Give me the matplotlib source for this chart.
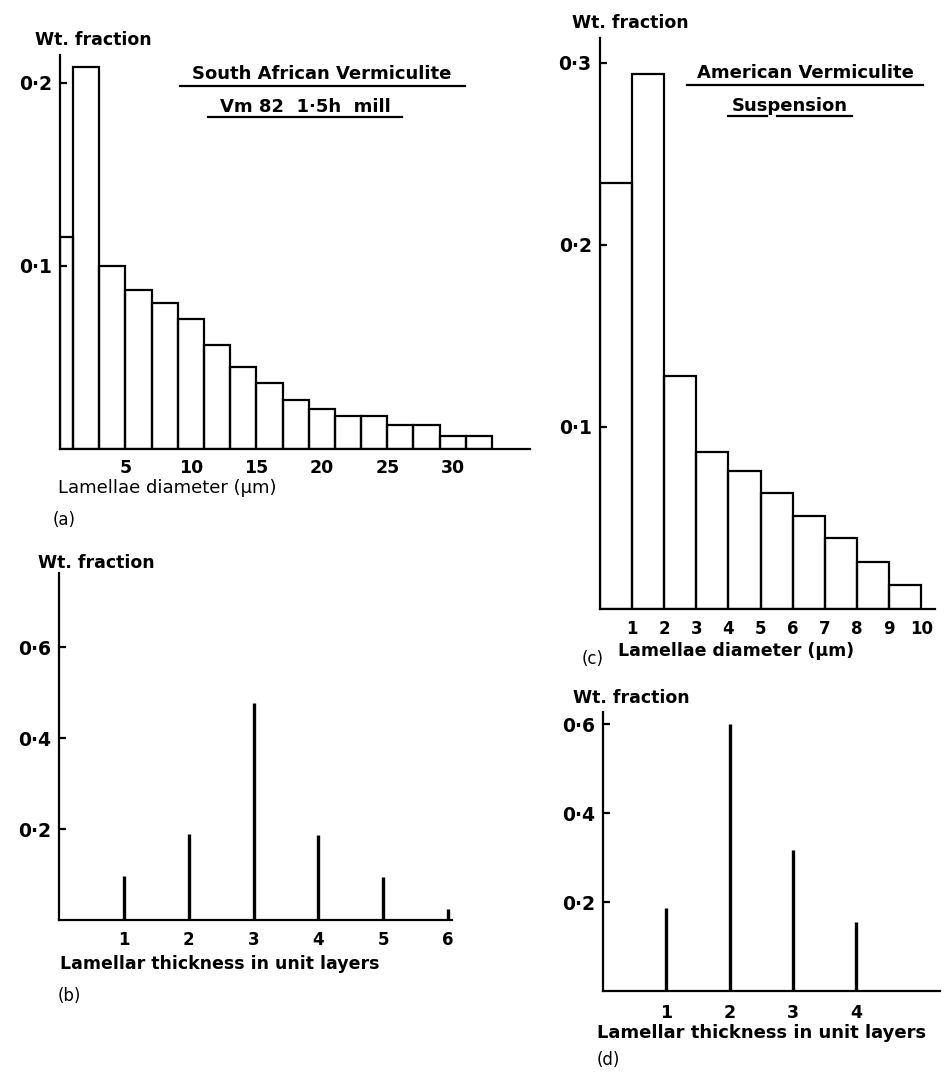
import matplotlib
matplotlib.use("Agg")
import matplotlib.pyplot as plt
from matplotlib.lines import Line2D

# ---------------- data ----------------
# (a) South African Vermiculite, Vm 82 1.5h mill -- lamellae diameter (um)
a_edges = [0, 1, 3, 5, 7, 9, 11, 13, 15, 17, 19, 21, 23, 25, 27, 29, 31, 33]
a_values = [0.116, 0.209, 0.100, 0.087, 0.080, 0.071, 0.057, 0.045, 0.036,
            0.027, 0.022, 0.018, 0.018, 0.013, 0.013, 0.007, 0.007]
a_xticks = [5, 10, 15, 20, 25, 30]
a_yticks = [0.1, 0.2]

# (b) South African -- lamellar thickness in unit layers
b_layers = [1, 2, 3, 4, 5, 6]
b_values = [0.097, 0.190, 0.478, 0.187, 0.095, 0.024]
b_yticks = [0.2, 0.4, 0.6]

# (c) American Vermiculite Suspension -- lamellae diameter (um)
c_edges = [0, 1, 2, 3, 4, 5, 6, 7, 8, 9, 10]
c_values = [0.234, 0.294, 0.128, 0.086, 0.076, 0.064, 0.051, 0.039, 0.026, 0.013]
c_xticks = [1, 2, 3, 4, 5, 6, 7, 8, 9, 10]
c_yticks = [0.1, 0.2, 0.3]

# (d) American -- lamellar thickness in unit layers
d_layers = [1, 2, 3, 4]
d_values = [0.187, 0.600, 0.317, 0.156]
d_yticks = [0.2, 0.4, 0.6]

# ---------------- layout helpers ----------------
W, H = 946, 1077
DPI = 100
plt.rcParams['font.family'] = ['DejaVu Sans']
fig = plt.figure(figsize=(W / DPI, H / DPI), dpi=DPI)
fig.patch.set_facecolor('white')

FS = 12.5
LW = 1.6


def P(x, y):
    return x / W, 1 - y / H


def add_axes(left, right, top, bottom):
    l, b = P(left, bottom)
    r, t = P(right, top)
    ax = fig.add_axes([l, b, r - l, t - b])
    for s in ('top', 'right'):
        ax.spines[s].set_visible(False)
    for s in ('left', 'bottom'):
        ax.spines[s].set_linewidth(LW)
    ax.patch.set_alpha(0)
    return ax


def fmt(v):
    return f"{v:.1f}".replace('.', '·')


def style_ticks(ax, xticks, yticks, xpad, xfs=FS):
    ax.set_xticks(xticks)
    ax.set_xticklabels([str(t) for t in xticks], fontsize=xfs, fontweight='bold')
    ax.set_yticks(yticks)
    ax.set_yticklabels([fmt(t) for t in yticks], fontsize=FS + 1, fontweight='bold')
    ax.tick_params(axis='x', length=0, pad=xpad)
    ax.tick_params(axis='y', direction='in', length=5, width=LW, pad=6)


def ftext(x, y, s, ha='left', size=FS, weight='bold', **kw):
    fx, fy = P(x, y)
    return fig.text(fx, fy, s, ha=ha, va='center', fontsize=size,
                    fontweight=weight, **kw)


def underline(x0, x1, y):
    a, b = P(x0, y)
    c, _ = P(x1, y)
    fig.add_artist(Line2D([a, c], [b, b], transform=fig.transFigure,
                          color='black', lw=LW))


# ---------------- (a) ----------------
axA = add_axes(60, 530, 55, 449)
axA.set_xlim(0, 35.9)
axA.set_ylim(0, 0.2153)
a_left = a_edges[:-1]
a_w = [a_edges[i + 1] - a_edges[i] for i in range(len(a_values))]
axA.bar(a_left, a_values, width=a_w, align='edge', fill=False,
        edgecolor='black', linewidth=LW)
style_ticks(axA, a_xticks, a_yticks, xpad=7)
ftext(35, 40, 'Wt. fraction')
ftext(322, 74, 'South African Vermiculite', ha='center', size=13)
underline(180, 465, 86)
ftext(305, 107, 'Vm 82  1·5h  mill', ha='center', size=13)
underline(208, 402, 117)
ftext(58, 488, 'Lamellae diameter (µm)', size=13, weight='normal')
ftext(53, 520, '(a)', size=12, weight='normal')

# ---------------- (b) ----------------
axB = add_axes(59, 452, 573, 920)
axB.set_xlim(0, 6.06)
axB.set_ylim(0, 0.763)
axB.vlines(b_layers, 0, b_values, colors='black', linewidth=2.4)
style_ticks(axB, b_layers, b_yticks, xpad=8, xfs=12)
ftext(38, 563, 'Wt. fraction')
ftext(60, 964, 'Lamellar thickness in unit layers', size=12.5)
ftext(58, 996, '(b)', size=12, weight='normal')

# ---------------- (c) ----------------
axC = add_axes(600, 935, 38, 609)
axC.set_xlim(0, 10.43)
axC.set_ylim(0, 0.3137)
c_left = c_edges[:-1]
c_w = [c_edges[i + 1] - c_edges[i] for i in range(len(c_values))]
axC.bar(c_left, c_values, width=c_w, align='edge', fill=False,
        edgecolor='black', linewidth=LW)
style_ticks(axC, c_xticks, c_yticks, xpad=8, xfs=12)
ftext(572, 23, 'Wt. fraction')
ftext(805, 73, 'American Vermiculite', ha='center', size=13)
underline(687, 923, 85)
ftext(790, 106, 'Suspension', ha='center', size=13)
underline(728, 767, 116)
underline(777, 852, 116)
ftext(618, 651, 'Lamellae diameter (µm)', size=12.5)
ftext(582, 659, '(c)', size=12, weight='normal')

# ---------------- (d) ----------------
axD = add_axes(603, 940, 712, 991)
axD.set_xlim(0, 5.32)
axD.set_ylim(0, 0.627)
axD.vlines(d_layers, 0, d_values, colors='black', linewidth=2.4)
style_ticks(axD, d_layers, d_yticks, xpad=9)
ftext(573, 698, 'Wt. fraction')
ftext(597, 1033, 'Lamellar thickness in unit layers', size=13)
ftext(597, 1060, '(d)', size=12, weight='normal')

fig.savefig('out.png', dpi=DPI, facecolor='white')
